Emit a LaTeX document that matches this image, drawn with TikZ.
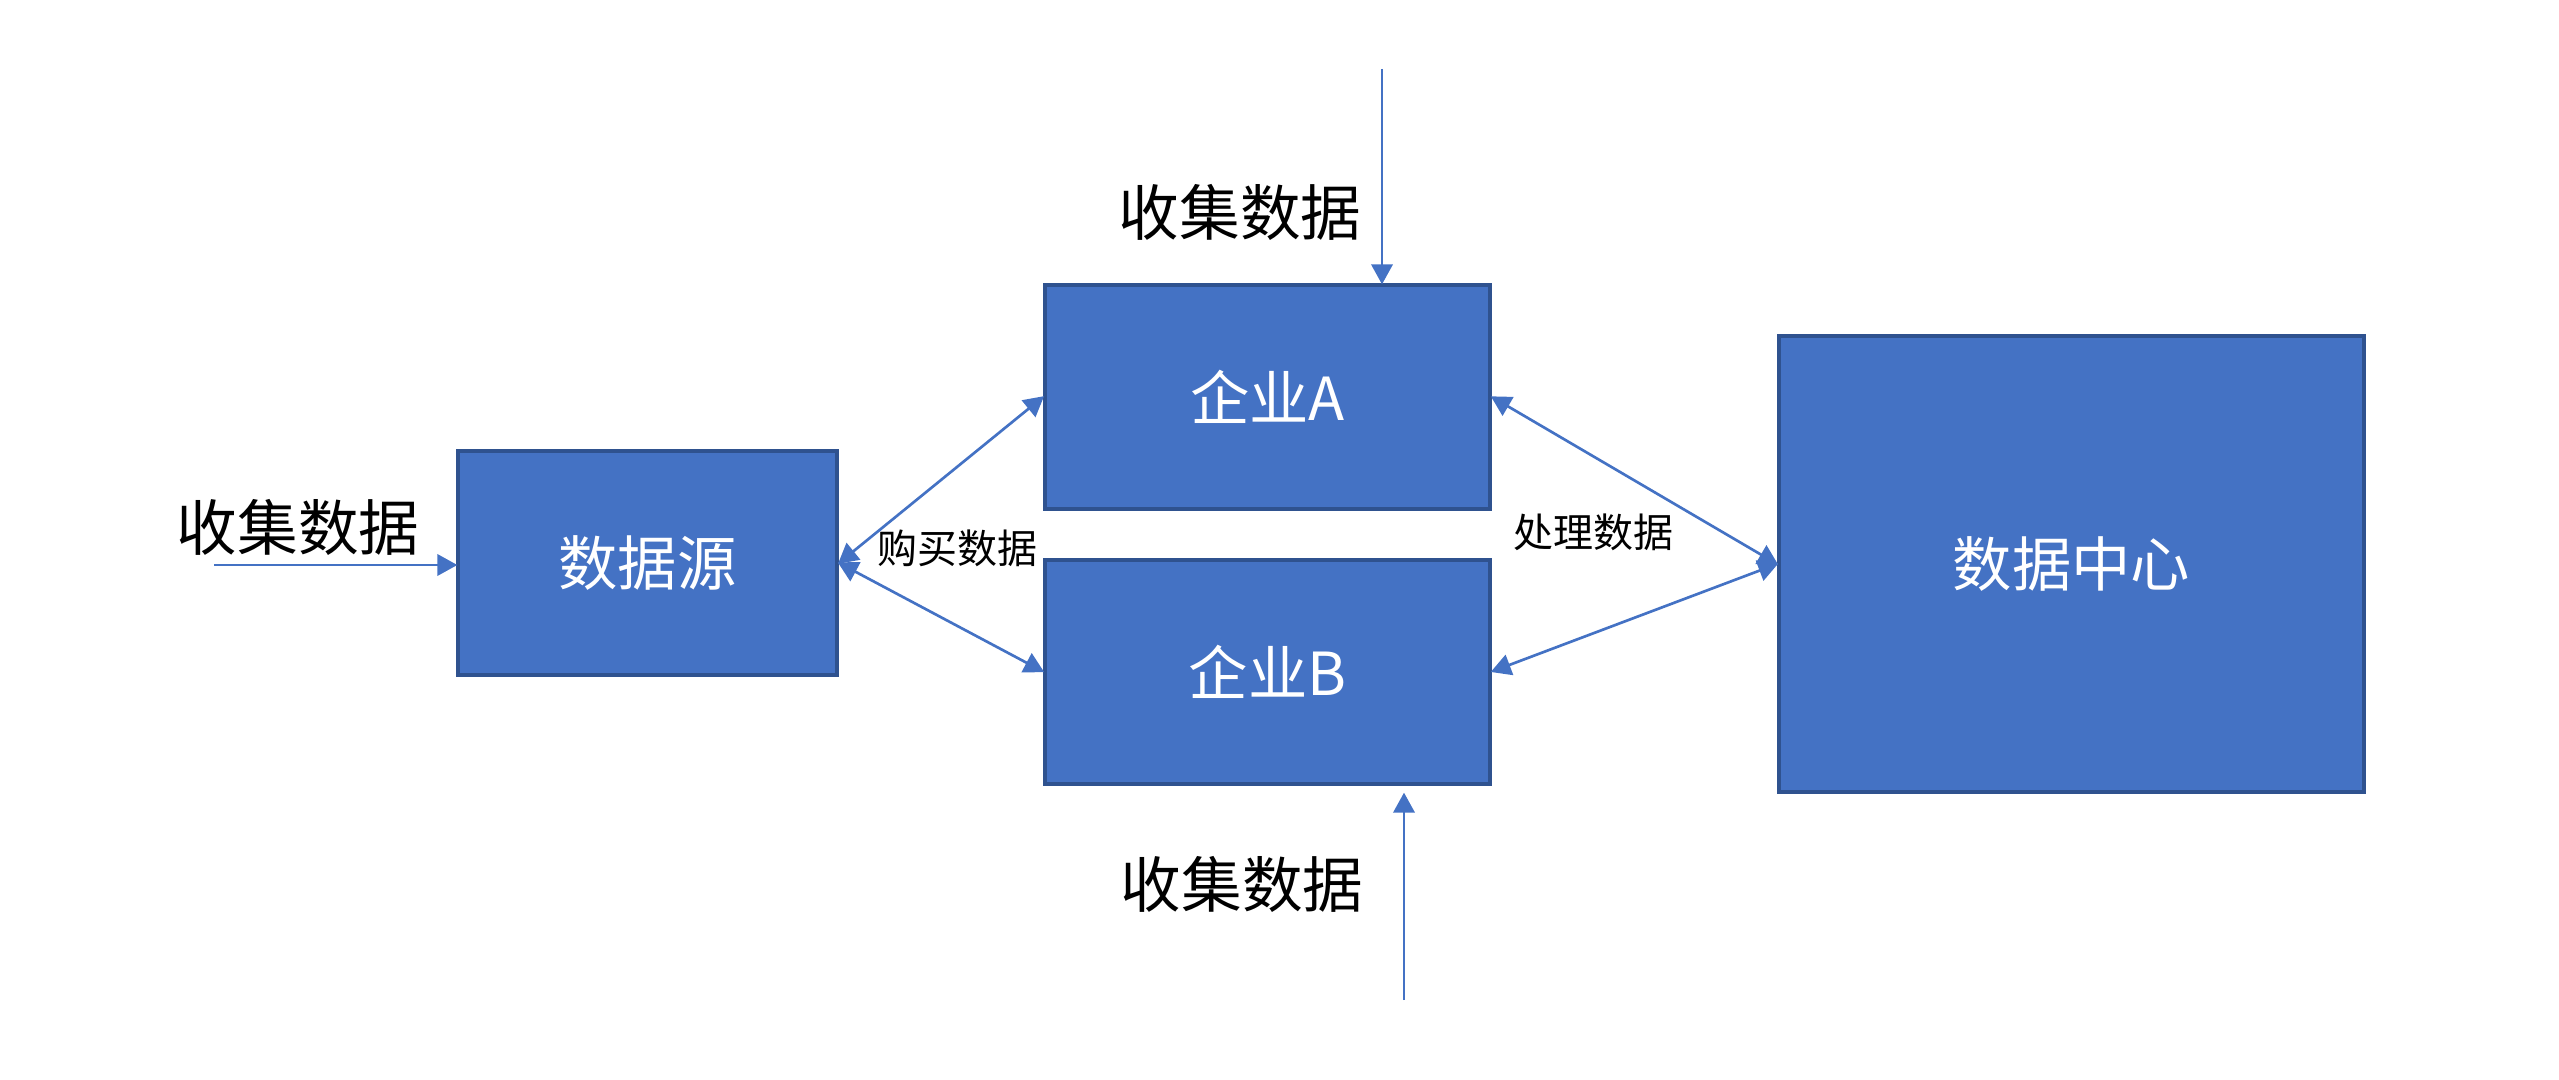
\documentclass[tikz,border=0pt]{standalone}
\usepackage{fontspec}
\setmainfont{Noto Sans CJK SC}
\usetikzlibrary{arrows.meta}
\definecolor{boxfill}{HTML}{4472C4}
\definecolor{boxline}{HTML}{2F528F}
\tikzset{
    databox/.style 2 args={draw=boxline,fill=boxfill,line width=3pt,text=white,font=\fontsize{44.5}{45}\selectfont,inner sep=0pt,minimum width=#1*0.75pt,minimum height=#2*0.75pt},
    biglabel/.style={inner sep=0pt,font=\fontsize{45.5}{46}\selectfont},
    smalllabel/.style={inner sep=0pt,font=\fontsize{30}{30}\selectfont},
    flow/.style={boxfill,line width=2pt,-{Triangle[length=15pt,width=16pt]},shorten >=-1pt},
    dualflow/.style={flow,{Triangle[length=15pt,width=16pt]}-{Triangle[length=15pt,width=16pt]},shorten <=-1pt}
}
\begin{document}
\begin{tikzpicture}[x=0.75pt,y=-0.75pt]
  \useasboundingbox (0,0) rectangle (2559,1080);

  % Boxes
  \node[databox={379}{224}] (source) at (647.5,563) {数据源};
  \node[databox={445}{224}] (firmA) at (1267.5,397) {企业A};
  \node[databox={445}{224}] (firmB) at (1267.5,671.5) {企业B};
  \node[databox={585}{456}] (center) at (2071.5,564) {数据中心};

  % Labels
  \node[biglabel] (collectL) at (298,527) {收集数据};
  \node[biglabel] (collectT) at (1240,212) {收集数据};
  \node[biglabel] (collectB) at (1242,884) {收集数据};
  \node[smalllabel] (buy) at (957,548) {购买数据};
  \node[smalllabel] (process) at (1593,532) {处理数据};

  % Free ends
  \coordinate (inL) at (214,565);
  \coordinate (inT) at (1382,69);
  \coordinate (inB) at (1404,1000);
  \coordinate (tipB) at (1404,794);

  % Collecting
  \draw[flow] (inL) -- (inL -| source.west);
  \draw[flow] (inT) -- (inT |- firmA.north);
  \draw[flow] (inB) -- (tipB);

  % Exchange
  \draw[dualflow] (source.east) -- (firmA.west);
  \draw[dualflow] (source.east) -- (firmB.west);
  \draw[dualflow] (firmA.east) -- (center.west);
  \draw[dualflow] (firmB.east) -- (center.west);
\end{tikzpicture}
\end{document}
